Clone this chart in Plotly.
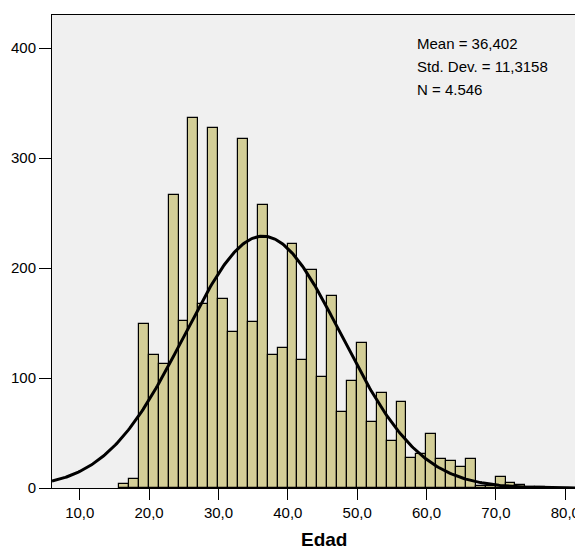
import numpy as np
import plotly.graph_objects as go

# Histogram data
bin_start = 15.667
bin_width = 10 / 7
counts = [4, 8, 149, 121, 113, 266, 152, 336, 167, 327, 172, 142, 317, 151, 257,
          121, 127, 222, 116, 198, 101, 175, 69, 97, 132, 60, 86, 43, 78, 27,
          31, 49, 26, 25, 19, 26, 2, 2, 10, 5, 3, 1, 1]

# Summary statistics shown in the chart
mean = 36.402
std_dev = 11.3158
n_obs = 4546
stats_lines = ["Mean = 36,402", "Std. Dev. = 11,3158", "N = 4.546"]

x_tick_vals = [10, 20, 30, 40, 50, 60, 70, 80]
x_tick_text = ["10,0", "20,0", "30,0", "40,0", "50,0", "60,0", "70,0", "80,0"]
y_tick_vals = [0, 100, 200, 300, 400]

x_range = [6.0, 81.83]
y_range = [0, 430]

centers = [bin_start + bin_width * (i + 0.5) for i in range(len(counts))]

# Normal curve from the displayed statistics
xc = np.linspace(x_range[0], x_range[1], 400)
yc = n_obs * bin_width / (std_dev * np.sqrt(2 * np.pi)) * np.exp(-0.5 * ((xc - mean) / std_dev) ** 2)

fig = go.Figure()
fig.add_trace(go.Bar(
    x=centers, y=counts, width=bin_width,
    marker=dict(color="#D3CE97", line=dict(color="#000000", width=1.2)),
    hoverinfo="skip",
))
fig.add_trace(go.Scatter(
    x=xc, y=yc, mode="lines",
    line=dict(color="#000000", width=3),
    hoverinfo="skip",
))

font_family = "Liberation Sans, Arial, sans-serif"

# page body has an 8px default margin: compensate
OFF = 8
W, H = 583 - OFF, 550 - OFF
L, R, T = 49 - OFF, 3, 15 - OFF
B = H - (488 - OFF)
pw = W - L - R
ph = H - T - B


def px_x(px):
    return (px - OFF - L) / pw


def px_y(py):
    return (H - B - (py - OFF)) / ph


fig.update_layout(
    width=W, height=H,
    margin=dict(l=L, r=R, t=T, b=B, pad=0),
    paper_bgcolor="#FFFFFF",
    plot_bgcolor="#F0F0F0",
    showlegend=False,
    bargap=0,
    font=dict(family=font_family, size=15, color="#000000"),
    xaxis=dict(
        range=x_range, tickvals=x_tick_vals, ticktext=x_tick_text,
        showgrid=False, zeroline=False,
        showline=True, linecolor="#000000", linewidth=1, mirror=True,
        ticks="outside", ticklen=11, tickwidth=1.3, tickcolor="#000000",
        tickfont=dict(size=15),
    ),
    yaxis=dict(
        range=y_range, tickvals=y_tick_vals,
        showgrid=False, zeroline=False,
        showline=True, linecolor="#000000", linewidth=1,
        ticks="outside", ticklen=12, tickwidth=1.3, tickcolor="#000000",
        tickfont=dict(size=15),
    ),
)

# right border (gray)
fig.add_shape(type="line", xref="paper", yref="paper", x0=1, x1=1, y0=0, y1=1,
              line=dict(color="#888888", width=1))

# axis title
fig.add_annotation(
    text="<b>Edad</b>", xref="paper", yref="paper",
    x=px_x(324), y=px_y(539),
    xanchor="center", yanchor="middle", showarrow=False,
    font=dict(size=19, family=font_family),
)

# stats box text
for txt, py in zip(stats_lines, [43, 66.5, 89]):
    fig.add_annotation(
        text=txt, xref="paper", yref="paper",
        x=px_x(415.7), y=px_y(py),
        xanchor="left", yanchor="middle", showarrow=False,
        font=dict(size=15, family=font_family),
    )

fig.write_html("out.html")
